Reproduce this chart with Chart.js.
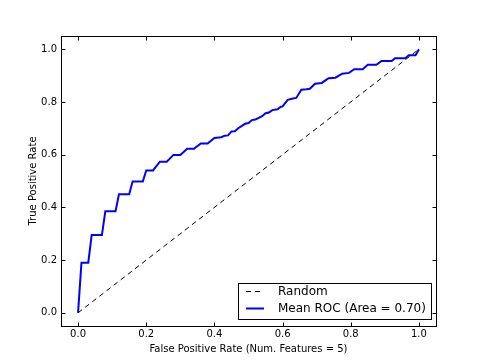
<!DOCTYPE html>
<html>
<head>
<meta charset="utf-8">
<script src="https://cdn.jsdelivr.net/npm/chart.js@4"></script>
<style>
  html, body { margin: 0; padding: 0; background: #fff; }
  #wrap { width: 485px; height: 363px; }
</style>
</head>
<body>
<div id="wrap"><canvas id="rocChart" width="485" height="363"></canvas></div>
<script>
// ===== ROC data =====
const rocFpr = [
  0, 0.01, 0.03, 0.04, 0.07, 0.08, 0.11, 0.12, 0.15, 0.16, 0.19, 0.20, 0.22,
  0.24, 0.26, 0.28, 0.30, 0.32, 0.34, 0.36, 0.38, 0.40, 0.42, 0.43, 0.44,
  0.45, 0.46, 0.47, 0.49, 0.50, 0.51, 0.52, 0.54, 0.55, 0.56, 0.57, 0.585,
  0.595, 0.60, 0.615, 0.63, 0.64, 0.655, 0.67, 0.68, 0.695, 0.715, 0.735,
  0.755, 0.775, 0.795, 0.81, 0.835, 0.85, 0.875, 0.89, 0.92, 0.93, 0.96,
  0.97, 0.99, 1.0
];
const rocTpr = [
  0, 0.19, 0.19, 0.295, 0.295, 0.385, 0.385, 0.45, 0.45, 0.498, 0.498, 0.54, 0.54,
  0.573, 0.573, 0.599, 0.599, 0.622, 0.622, 0.642, 0.642, 0.663, 0.666, 0.672, 0.673,
  0.688, 0.689, 0.70, 0.717, 0.72, 0.731, 0.733, 0.746, 0.757, 0.76, 0.769, 0.772,
  0.782, 0.783, 0.808, 0.813, 0.815, 0.846, 0.848, 0.85, 0.869, 0.872, 0.89,
  0.892, 0.907, 0.91, 0.924, 0.924, 0.941, 0.941, 0.955, 0.955, 0.966, 0.966,
  0.977, 0.977, 1.0
];
const randomFpr = [0, 1];
const randomTpr = [0, 1];

const xTicks = [0.0, 0.2, 0.4, 0.6, 0.8, 1.0];
const yTicks = [0.0, 0.2, 0.4, 0.6, 0.8, 1.0];

const toPoints = (xs, ys) => xs.map((x, i) => ({ x: x, y: ys[i] }));

// ===== frame, inward ticks and legend box, matplotlib style =====
const framePlugin = {
  id: "frame",
  afterDatasetsDraw(chart) {
    const { ctx, chartArea: a, scales } = chart;
    const L = Math.round(a.left) + 0.5, R = Math.round(a.right) + 0.5;
    const T = Math.round(a.top) + 0.5, B = Math.round(a.bottom) + 0.5;
    ctx.save();
    ctx.strokeStyle = "#000";
    ctx.lineWidth = 1;
    ctx.strokeRect(L, T, R - L, B - T);
    ctx.beginPath();
    xTicks.forEach(v => {
      const px = Math.round(scales.x.getPixelForValue(v)) + 0.5;
      ctx.moveTo(px, B); ctx.lineTo(px, B - 4);
      ctx.moveTo(px, T); ctx.lineTo(px, T + 4);
    });
    yTicks.forEach(v => {
      const py = Math.round(scales.y.getPixelForValue(v)) + 0.5;
      ctx.moveTo(L, py); ctx.lineTo(L + 4, py);
      ctx.moveTo(R, py); ctx.lineTo(R - 4, py);
    });
    ctx.stroke();

    // legend, lower right
    const box = { x: 238.5, y: 283.5, w: 193, h: 36 };
    ctx.fillStyle = "#fff";
    ctx.fillRect(box.x, box.y, box.w, box.h);
    ctx.strokeRect(box.x, box.y, box.w, box.h);
    ctx.font = "12px 'DejaVu Sans'";
    ctx.textBaseline = "middle";
    chart.data.datasets.forEach((ds, i) => {
      const cy = Math.round(291 + i * 17) + 0.5;
      ctx.beginPath();
      ctx.strokeStyle = ds.borderColor;
      ctx.lineWidth = ds.borderWidth;
      ctx.setLineDash(ds.borderDash || []);
      ctx.moveTo(246, cy); ctx.lineTo(264, cy);
      ctx.stroke();
      ctx.setLineDash([]);
      ctx.fillStyle = "#000";
      ctx.fillText(ds.label, 278, cy);
    });
    ctx.restore();
  }
};

const tickFont = { family: "'DejaVu Sans'", size: 10 };

new Chart(document.getElementById("rocChart"), {
  type: "scatter",
  data: {
    datasets: [
      {
        label: "Random",
        data: toPoints(randomFpr, randomTpr),
        showLine: true,
        borderColor: "#000",
        borderWidth: 1,
        borderDash: [5, 4],
        pointRadius: 0
      },
      {
        label: "Mean ROC (Area = 0.70)",
        data: toPoints(rocFpr, rocTpr),
        showLine: true,
        borderColor: "#0000ff",
        borderWidth: 2,
        pointRadius: 0,
        tension: 0
      }
    ]
  },
  options: {
    responsive: false,
    animation: false,
    layout: { padding: { left: 0, right: 49, top: 36, bottom: 0 } },
    plugins: {
      legend: { display: false },
      tooltip: { enabled: false }
    },
    scales: {
      x: {
        type: "linear",
        min: -0.05,
        max: 1.05,
        afterBuildTicks: s => { s.ticks = xTicks.map(v => ({ value: v })); },
        afterFit: s => { s.height = 37; },
        grid: { display: false, drawTicks: false },
        border: { display: false },
        ticks: {
          color: "#000",
          font: tickFont,
          padding: 2,
          maxRotation: 0,
          callback: v => v.toFixed(1)
        },
        title: {
          display: true,
          text: "False Positive Rate (Num. Features = 5)",
          color: "#000",
          font: tickFont,
          padding: { top: 0, bottom: 8 }
        }
      },
      y: {
        type: "linear",
        min: -0.05,
        max: 1.05,
        afterBuildTicks: s => { s.ticks = yTicks.map(v => ({ value: v })); },
        afterFit: s => { s.width = 61; },
        grid: { display: false, drawTicks: false },
        border: { display: false },
        ticks: {
          color: "#000",
          font: tickFont,
          padding: 4,
          callback: v => v.toFixed(1)
        },
        title: {
          display: true,
          text: "True Positive Rate",
          color: "#000",
          font: tickFont,
          padding: { top: 27, bottom: 0 }
        }
      }
    }
  },
  plugins: [framePlugin]
});
</script>
</body>
</html>
